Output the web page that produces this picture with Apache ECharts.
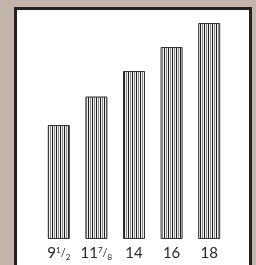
<!DOCTYPE html>
<html>
<head>
<meta charset="utf-8">
<script src="https://cdn.jsdelivr.net/npm/echarts@6/dist/echarts.min.js"></script>
<style>
  html, body { margin: 0; padding: 0; background: #c3b5ac; }
  #chart { width: 256px; height: 265px; }
</style>
</head>
<body>
<div id="chart"></div>
<script>
// category labels (whole part, numerator, denominator)
var labelWhole = ['9', '11', '14', '16', '18'];
var labelNum = ['1', '7', '', '', ''];
var labelDen = ['2', '8', '', '', ''];
var values = [9.5, 11.875, 14, 16, 18];

var categories = labelWhole.map(function (w, i) {
  return labelNum[i] ? w + '{n|' + labelNum[i] + '}{s|/}{d|' + labelDen[i] + '}' : w;
});

// vertical stripe fill
var stripe = document.createElement('canvas');
stripe.width = 4;
stripe.height = 4;
var ctx = stripe.getContext('2d');
var cols = ['#1e1e1e', '#eeeeee', '#8e8e8e', '#eeeeee'];
for (var i = 0; i < 4; i++) {
  ctx.fillStyle = cols[i];
  ctx.fillRect(i, 0, 1, 4);
}

var myChart = echarts.init(document.getElementById('chart'));
var option = {
  backgroundColor: '#c3b5ac',
  animation: false,
  graphic: [{
    type: 'rect',
    z: -10,
    shape: { x: 15.5, y: 8.5, width: 235, height: 280 },
    style: { fill: '#ffffff', stroke: '#222222', lineWidth: 3 }
  }],
  grid: { left: 40, right: 28, top: 11, bottom: 26 },
  xAxis: {
    type: 'category',
    data: categories,
    axisLine: { show: false },
    axisTick: { show: false },
    axisLabel: {
      interval: 0,
      hideOverlap: false,
      margin: 7,
      color: '#2a2a2a',
      fontFamily: 'Lato',
      fontSize: 15,
      rich: {
        n: { fontSize: 8, fontFamily: 'Lato', color: '#2a2a2a', verticalAlign: 'top', padding: [0, 0, 5, 0] },
        s: { fontSize: 11, fontFamily: 'Lato', color: '#2a2a2a' },
        d: { fontSize: 8, fontFamily: 'Lato', color: '#2a2a2a', verticalAlign: 'bottom', padding: [3, 0, 0, 0] }
      }
    }
  },
  yAxis: {
    type: 'value',
    min: 0,
    max: 19,
    show: false,
    splitLine: { show: false }
  },
  series: [{
    type: 'bar',
    barWidth: 22,
    data: values,
    itemStyle: {
      color: { image: stripe, repeat: 'repeat' },
      borderColor: '#333333',
      borderWidth: 1
    }
  }]
};
myChart.setOption(option);
</script>
</body>
</html>
